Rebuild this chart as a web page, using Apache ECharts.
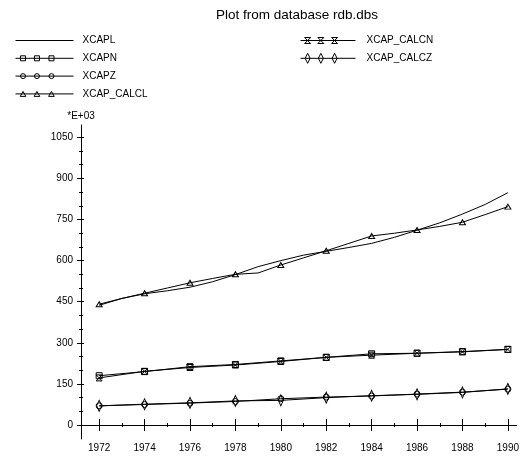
<!DOCTYPE html>
<html>
<head>
<meta charset="utf-8">
<script src="https://cdn.jsdelivr.net/npm/echarts@6/dist/echarts.min.js"></script>
<style>
html,body{margin:0;padding:0;background:#fff;}
#main{width:522px;height:466px;}
</style>
</head>
<body>
<div id="main"></div>
<script>
// years and values (units: *E+03)
var yearsAll = [1972,1973,1974,1975,1976,1977,1978,1979,1980,1981,1982,1983,1984,1985,1986,1987,1988,1989,1990];
var yearsEven = [1972,1974,1976,1978,1980,1982,1984,1986,1988,1990];

var xcapl      = [437,462,479,490,503,523,549,578,600,620,634,648,663,685,711,738,770,805,848];
var xcapCalcl  = [441,462,481,500,519,535,550,555,584,610,636,663,690,700,712,725,740,768,797];
var xcapn      = [180,195,213,221,234,247,260,262,268,276];
var xcapCalcn  = [172,196,210,219,232,247,255,262,267,276];
var xcapz      = [70,75,80,86,96,102,106,113,120,131];
var xcapCalcz  = [70,76,81,88,90,100,107,112,119,132];

// tick labels
var yTicks = [0,150,300,450,600,750,900,1050];
var yMinor = [0,50,100,150,200,250,300,350,400,450,500,550,600,650,700,750,800,850,900,950,1000,1050];
var xTicks = yearsEven;
var xMinor = yearsAll;

var sans = "'Liberation Sans',Arial,sans-serif";

function pairs(xs, ys) {
    return xs.map(function (x, i) { return [x, ys[i]]; });
}

// legend icon: line with three hollow markers
function shapePath(type, cx) {
    switch (type) {
        case 'rect':
            return 'M' + (cx - 2.5) + ' 2.5 L' + (cx + 2.5) + ' 2.5 L' + (cx + 2.5) + ' 7.5 L' + (cx - 2.5) + ' 7.5 Z';
        case 'circle':
            return 'M' + (cx - 2.5) + ' 5 A2.5 2.5 0 1 0 ' + (cx + 2.5) + ' 5 A2.5 2.5 0 1 0 ' + (cx - 2.5) + ' 5 Z';
        case 'triangle':
            return 'M' + cx + ' 2.5 L' + (cx + 2.8) + ' 7.5 L' + (cx - 2.8) + ' 7.5 Z';
        case 'hourglass':
            return 'M' + (cx - 3) + ' 2 L' + (cx + 3) + ' 2 L' + (cx - 3) + ' 8 L' + (cx + 3) + ' 8 Z';
        case 'diamond':
            return 'M' + cx + ' 0 L' + (cx + 2.5) + ' 5 L' + cx + ' 10 L' + (cx - 2.5) + ' 5 Z';
    }
    return '';
}
function legendIcon(len, total, type) {
    var p = 'path://M0 5 L' + len + ' 5 ';
    if (type) {
        var c = [len * 0.13, len * 0.37, len * 0.62];
        for (var i = 0; i < 3; i++) p += shapePath(type, c[i]) + ' ';
    }
    p += 'M0 0 L0 0 M' + total + ' 10 L' + total + ' 10';
    return p;
}

var hourglass = 'path://M0 0 L10 0 L0 10 L10 10 Z';
var hollow = { color: 'rgba(0,0,0,0)', borderColor: '#000', borderWidth: 1 };
var blackLine = { color: '#000', width: 1 };

function lineSeries(name, data, symbol, size) {
    return {
        name: name,
        type: 'line',
        data: data,
        xAxisIndex: 0,
        yAxisIndex: 0,
        symbol: symbol,
        symbolSize: size,
        showAllSymbol: true,
        lineStyle: blackLine,
        itemStyle: hollow,
        emphasis: { disabled: true },
        z: 3
    };
}

var sCalcl = lineSeries('XCAP_CALCL', pairs(yearsAll, xcapCalcl), function (v) {
    return v[0] % 2 === 0 ? 'triangle' : 'none';
}, [6, 5]);

var yBase = { type: 'value', min: -51, max: 1095, position: 'left', offset: 0, splitLine: { show: false } };
var xBase = { type: 'value', min: 1971.2, max: 1990.38, position: 'bottom', offset: 0, splitLine: { show: false } };

function hiddenAxis(base, ticks, len, inside) {
    return Object.assign({}, base, {
        axisLine: { show: false },
        axisLabel: { show: false },
        axisTick: { show: true, inside: inside, length: len, customValues: ticks, lineStyle: { color: '#000' } }
    });
}

var legendText = { fontFamily: sans, fontSize: 10, lineHeight: 10, color: '#000' };

var option = {
    backgroundColor: '#fff',
    animation: false,
    title: {
        text: 'Plot from database rdb.dbs',
        left: 216,
        top: 8,
        padding: 0,
        textStyle: { fontFamily: sans, fontSize: 13.5, fontWeight: 'normal', color: '#000' }
    },
    legend: [
        {
            orient: 'vertical',
            left: 13,
            top: 33,
            padding: 0,
            itemWidth: 62,
            itemHeight: 10,
            itemGap: 2.8,
            selectedMode: false,
            itemStyle: { color: 'none', borderColor: '#000', borderWidth: 1 },
            textStyle: legendText,
            data: [
                { name: 'XCAPL', icon: legendIcon(58, 62, null) },
                { name: 'XCAPN', icon: legendIcon(58, 62, 'rect') },
                { name: 'XCAPZ', icon: legendIcon(58, 62, 'circle') },
                { name: 'XCAP_CALCL', icon: legendIcon(58, 62, 'triangle') }
            ]
        },
        {
            orient: 'vertical',
            left: 298,
            top: 33,
            padding: 0,
            itemWidth: 61,
            itemHeight: 10,
            itemGap: 2.8,
            selectedMode: false,
            itemStyle: { color: 'none', borderColor: '#000', borderWidth: 1 },
            textStyle: legendText,
            data: [
                { name: 'XCAP_CALCN', icon: legendIcon(55, 61, 'hourglass') },
                { name: 'XCAP_CALCZ', icon: legendIcon(55, 61, 'diamond') }
            ]
        }
    ],
    grid: { left: 81, right: 1, top: 125, bottom: 27, containLabel: false },
    xAxis: [
        Object.assign({}, xBase, {
            axisLine: { show: true, lineStyle: { color: '#000', width: 1 } },
            axisTick: { show: true, length: 6, customValues: xTicks, lineStyle: { color: '#000' } },
            axisLabel: {
                customValues: xTicks,
                margin: 4,
                color: '#000',
                fontFamily: sans,
                fontSize: 10,
                formatter: function (v) { return String(v); }
            }
        }),
        hiddenAxis(xBase, xTicks, 6, true),
        hiddenAxis(xBase, xMinor, 2, false),
        hiddenAxis(xBase, xMinor, 2, true)
    ],
    yAxis: [
        Object.assign({}, yBase, {
            name: '*E+03',
            nameLocation: 'end',
            nameGap: 4,
            nameTextStyle: { fontFamily: sans, fontSize: 10, color: '#000' },
            axisLine: { show: true, lineStyle: { color: '#000', width: 1 } },
            axisTick: { show: true, length: 4, customValues: yTicks, lineStyle: { color: '#000' } },
            axisLabel: {
                customValues: yTicks,
                margin: 8,
                color: '#000',
                fontFamily: sans,
                fontSize: 10,
                formatter: function (v) { return String(v); }
            }
        }),
        hiddenAxis(yBase, yTicks, 3, true),
        hiddenAxis(yBase, yMinor, 2, false),
        hiddenAxis(yBase, yMinor, 2, true)
    ],
    series: [
        lineSeries('XCAPL', pairs(yearsAll, xcapl), 'none', 0),
        lineSeries('XCAPN', pairs(yearsEven, xcapn), 'rect', 6),
        lineSeries('XCAPZ', pairs(yearsEven, xcapz), 'circle', 6),
        sCalcl,
        lineSeries('XCAP_CALCN', pairs(yearsEven, xcapCalcn), hourglass, 6),
        lineSeries('XCAP_CALCZ', pairs(yearsEven, xcapCalcz), 'diamond', [5, 11])
    ]
};

var chart = echarts.init(document.getElementById('main'));
chart.setOption(option);
</script>
</body>
</html>
